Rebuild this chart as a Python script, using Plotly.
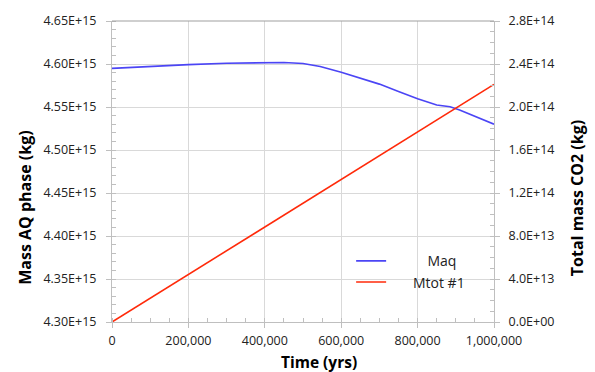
import plotly.graph_objects as go

# Aqueous-phase mass over time (kg)
time_yrs = [0, 100000, 200000, 300000, 400000, 450000, 500000, 545000, 600000,
            650000, 700000, 750000, 800000, 850000, 885000, 910000, 950000, 1000000]
maq_kg = [4.5949e15, 4.5973e15, 4.5993e15, 4.6008e15, 4.6020e15, 4.6018e15, 4.6006e15,
          4.5972e15, 4.5905e15, 4.5840e15, 4.5766e15, 4.5680e15, 4.5596e15, 4.5523e15,
          4.5503e15, 4.5466e15, 4.5390e15, 4.5300e15]

# Total injected CO2 mass over time (kg)
mtot_time = [0, 200000, 400000, 600000, 800000, 1000000]
mtot_kg = [0.0, 4.42e13, 8.84e13, 1.326e14, 1.768e14, 2.21e14]

x_ticks = [0, 200000, 400000, 600000, 800000, 1000000]
x_labels = ["0", "200,000", "400,000", "600,000", "800,000", "1,000,000"]
left_ticks = [4.30e15, 4.35e15, 4.40e15, 4.45e15, 4.50e15, 4.55e15, 4.60e15, 4.65e15]
left_labels = ["4.30E+15", "4.35E+15", "4.40E+15", "4.45E+15", "4.50E+15",
               "4.55E+15", "4.60E+15", "4.65E+15"]
right_ticks = [0, 4e13, 8e13, 1.2e14, 1.6e14, 2.0e14, 2.4e14, 2.8e14]
right_labels = ["0.0E+00", "4.0E+13", "8.0E+13", "1.2E+14", "1.6E+14",
                "2.0E+14", "2.4E+14", "2.8E+14"]

FONT = "Open Sans"
AXIS_GRAY = "#bfbfbf"
GRID_GRAY = "#d9d9d9"
PAD = "\u00a0"

fig = go.Figure()
fig.add_trace(go.Scatter(
    x=time_yrs, y=maq_kg, mode="lines",
    name=PAD * 10 + "Maq",
    line=dict(color="#4b45f5", width=1.6),
    yaxis="y",
))
fig.add_trace(go.Scatter(
    x=mtot_time, y=mtot_kg, mode="lines",
    name=PAD * 6 + "Mtot #1",
    line=dict(color="#ff2a0a", width=1.6),
    yaxis="y2",
))

tick_font = dict(family=FONT, size=12.5, color="#222222")

fig.update_layout(
    width=595, height=372,
    margin=dict(l=112, r=101, t=13, b=50),
    paper_bgcolor="white", plot_bgcolor="white",
    font=dict(family=FONT, color="#111111"),
    showlegend=True,
    legend=dict(
        x=0.626, y=0.167, xanchor="left", yanchor="middle",
        bgcolor="rgba(0,0,0,0)", font=dict(family=FONT, size=14, color="#222222"),
        itemwidth=30, tracegroupgap=0,
    ),
    xaxis=dict(
        range=[0, 1000000], tickvals=x_ticks, ticktext=x_labels,
        showgrid=True, gridcolor=GRID_GRAY, gridwidth=1,
        showline=True, linecolor=AXIS_GRAY, linewidth=1,
        ticks="outside", ticklen=5, tickcolor=AXIS_GRAY, ticklabelstandoff=2,
        minor=dict(dtick=50000, ticks="inside", ticklen=4, tickcolor=AXIS_GRAY, showgrid=False),
        tickfont=tick_font, zeroline=False,
    ),
    yaxis=dict(
        range=[4.30e15, 4.65e15], tickvals=left_ticks, ticktext=left_labels,
        showgrid=True, gridcolor=GRID_GRAY, gridwidth=1,
        showline=True, linecolor=AXIS_GRAY, linewidth=1,
        ticks="outside", ticklen=5, tickcolor=AXIS_GRAY, ticklabelstandoff=7,
        minor=dict(dtick=0.01e15, tick0=4.30e15, ticks="inside", ticklen=4,
                   tickcolor=AXIS_GRAY, showgrid=False),
        tickfont=tick_font, zeroline=False,
    ),
    yaxis2=dict(
        range=[0, 2.8e14], tickvals=right_ticks, ticktext=right_labels,
        overlaying="y", side="right", showgrid=False,
        showline=True, linecolor=AXIS_GRAY, linewidth=1,
        ticks="outside", ticklen=5, tickcolor=AXIS_GRAY, ticklabelstandoff=6,
        minor=dict(dtick=1e13, tick0=0, ticks="inside", ticklen=4,
                   tickcolor=AXIS_GRAY, showgrid=False),
        tickfont=tick_font, zeroline=False,
    ),
)

# plot-area top border
fig.add_shape(type="line", xref="paper", yref="paper", x0=0, x1=1, y0=1, y1=1,
              line=dict(color="#a0a0a0", width=1.2))

fig.add_annotation(text="<b>Time (yrs)</b>", xref="paper", yref="paper",
                   x=0.542, y=-0.133, xanchor="center", yanchor="middle",
                   showarrow=False, font=dict(family=FONT, size=15.5, color="#000000"))
fig.add_annotation(text="<b>Mass AQ phase (kg)</b>", xref="paper", yref="paper",
                   x=-0.228, y=0.379, xanchor="center", yanchor="middle",
                   textangle=-90, showarrow=False,
                   font=dict(family=FONT, size=16, color="#000000"))
fig.add_annotation(text="<b>Total mass CO2 (kg)</b>", xref="paper", yref="paper",
                   x=1.217, y=0.411, xanchor="center", yanchor="middle",
                   textangle=-90, showarrow=False,
                   font=dict(family=FONT, size=16, color="#000000"))

fig.write_html("out.html")
